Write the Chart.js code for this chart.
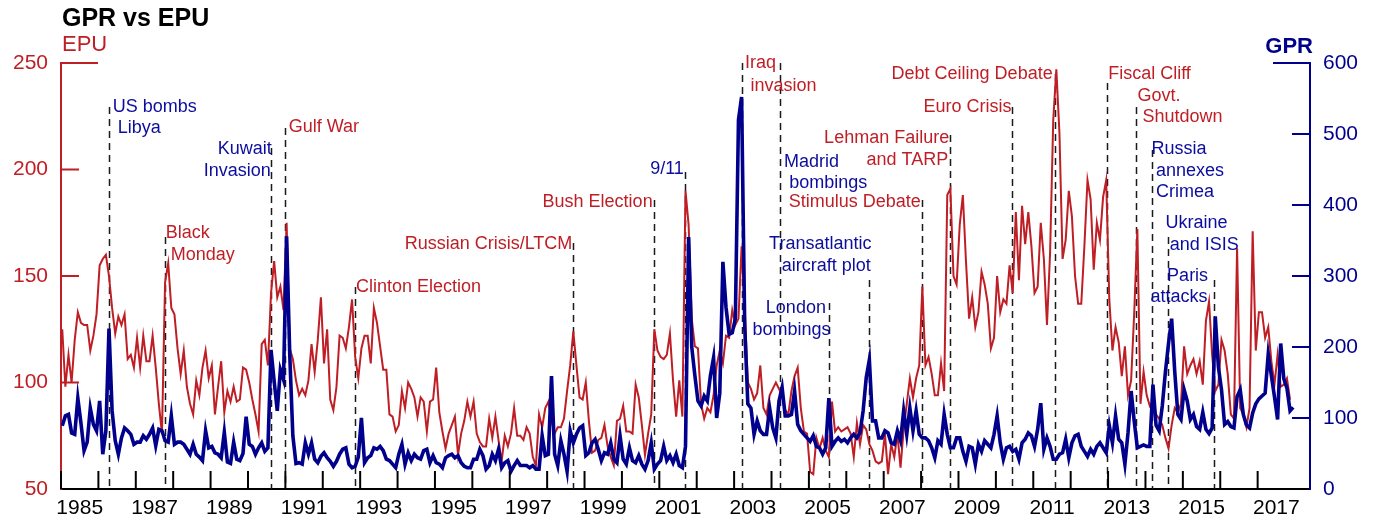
<!DOCTYPE html>
<html>
<head>
<meta charset="utf-8">
<script src="https://cdn.jsdelivr.net/npm/chart.js@4.4.0/dist/chart.umd.min.js"></script>
<style>
  html, body { margin: 0; padding: 0; background: #fff; }
  #wrap { width: 1381px; height: 531px; }
</style>
</head>
<body>
<div id="wrap"><canvas id="c" width="1381" height="531"></canvas></div>
<script>
const startYear = 1985;

// EPU index, monthly from Jan 1985 (one row per year), last value Nov 2017
const epuValues = [
  125, 98, 113, 100, 120, 133, 128, 127, 127, 115, 122, 132,
  155, 158, 160, 150, 135, 123, 131, 127, 132, 111, 113, 107,
  121, 107, 122, 110, 110, 122, 107, 90, 76, 147, 156, 135,
  132, 116, 104, 115, 98, 90, 85, 101, 94, 107, 115, 102,
  108, 85, 98, 110, 86, 96, 91, 98, 91, 92, 107, 106,
  100, 92, 85, 77, 118, 120, 108, 142, 157, 140, 145, 134,
  175, 116, 111, 101, 94, 97, 94, 101, 118, 105, 120, 140,
  109, 125, 92, 87, 98, 122, 121, 116, 126, 139, 112, 102,
  116, 122, 122, 109, 135, 128, 117, 106, 106, 85, 84, 77,
  80, 96, 88, 100, 97, 93, 84, 93, 91, 77, 91, 92,
  107, 86, 77, 69, 76, 80, 84, 66, 76, 82, 91, 84,
  91, 76, 72, 70, 70, 83, 74, 84, 73, 63, 75, 70,
  76, 88, 75, 75, 73, 79, 76, 65, 61, 85, 79, 88,
  91, 82, 76, 79, 79, 83, 96, 108, 124, 108, 93, 92,
  100, 82, 67, 68, 73, 74, 80, 70, 65, 61, 82, 83,
  89, 77, 77, 76, 99, 93, 80, 66, 76, 85, 125, 115,
  112, 111, 113, 123, 101, 84, 101, 84, 190, 174, 130, 117,
  116, 90, 83, 88, 86, 94, 108, 115, 109, 122, 121, 134,
  127, 130, 164, 135, 100, 97, 92, 95, 108, 88, 85, 94,
  97, 100, 97, 94, 87, 85, 96, 103, 107, 88, 77, 76,
  58, 57, 74, 69, 74, 68, 65, 91, 77, 79, 77, 78,
  79, 76, 65, 81, 71, 80, 78, 71, 68, 63, 62, 63,
  76, 57, 71, 65, 76, 60, 78, 90, 102, 93, 102, 108,
  145, 108, 112, 104, 94, 94, 109, 96, 188, 191, 150, 146,
  174, 188, 157, 130, 140, 126, 133, 152, 146, 137, 116, 121,
  150, 133, 139, 137, 155, 142, 180, 148, 183, 165, 180, 164,
  142, 145, 175, 158, 127, 161, 223, 247, 217, 158, 167, 190,
  178, 150, 137, 137, 164, 195, 186, 153, 175, 167, 187, 195,
  139, 115, 126, 119, 103, 117, 94, 101, 133, 172, 90, 105,
  94, 89, 91, 85, 83, 80, 74, 69, 80, 88, 86, 90,
  117, 104, 108, 111, 104, 110, 99, 129, 138, 113, 96, 99,
  120, 115, 104, 85, 83, 163, 88, 85, 79, 88, 171, 115,
  133, 133, 121, 126, 110, 99, 113, 98, 99, 102, 92
];

// GPR index, monthly from Jan 1985 (one row per year), last value Dec 2017
const gprValues = [
  89, 103, 105, 79, 77, 128, 93, 54, 66, 114, 91, 82,
  124, 49, 82, 226, 110, 68, 49, 72, 86, 82, 77, 63,
  66, 66, 75, 70, 77, 86, 61, 84, 82, 68, 66, 103,
  63, 66, 66, 63, 56, 49, 63, 49, 45, 40, 82, 58,
  60, 51, 49, 44, 80, 38, 36, 66, 42, 40, 50, 102,
  63, 60, 49, 58, 65, 53, 58, 196, 152, 110, 168, 154,
  356, 190, 75, 36, 37, 35, 65, 49, 65, 42, 37, 46,
  51, 44, 39, 32, 39, 49, 56, 58, 35, 30, 32, 45,
  100, 37, 44, 47, 58, 56, 60, 54, 42, 40, 35, 30,
  49, 63, 35, 51, 40, 49, 44, 42, 54, 56, 37, 47,
  37, 35, 30, 44, 47, 49, 44, 47, 37, 32, 30, 30,
  42, 42, 56, 47, 28, 33, 49, 40, 56, 30, 37, 40,
  25, 33, 40, 33, 33, 33, 30, 33, 28, 28, 75, 47,
  49, 159, 49, 33, 68, 49, 25, 82, 65, 77, 86, 89,
  47, 51, 65, 70, 56, 40, 51, 49, 65, 42, 37, 75,
  42, 35, 58, 40, 37, 47, 35, 28, 40, 65, 28, 35,
  40, 60, 40, 47, 37, 49, 33, 30, 60, 355, 200, 160,
  124, 117, 131, 124, 160, 185, 100, 135, 320, 256, 218, 220,
  240, 520, 552, 230, 120, 114, 77, 96, 82, 77, 77, 114,
  86, 72, 124, 143, 103, 103, 105, 138, 91, 82, 77, 72,
  67, 75, 60, 58, 49, 58, 128, 60, 67, 72, 67, 70,
  65, 72, 77, 72, 79, 110, 157, 182, 96, 96, 72, 72,
  82, 79, 65, 63, 82, 68, 110, 77, 114, 82, 110, 77,
  72, 72, 68, 58, 44, 68, 63, 105, 77, 58, 58, 72,
  72, 53, 39, 60, 58, 35, 63, 53, 68, 63, 58, 77,
  103, 65, 42, 58, 60, 53, 56, 42, 65, 70, 79, 75,
  60, 84, 121, 56, 72, 60, 42, 42, 49, 51, 70, 44,
  65, 75, 77, 60, 53, 46, 56, 49, 60, 65, 58, 51,
  89, 65, 103, 70, 65, 35, 79, 138, 95, 58, 60, 62,
  60, 60, 147, 90, 82, 117, 165, 205, 240, 165, 105, 98,
  140, 124, 98, 105, 88, 84, 108, 84, 78, 86, 243, 172,
  140, 91, 95, 88, 86, 130, 140, 105, 90, 86, 107, 120,
  127, 131, 135, 190, 160, 130, 98, 205, 155, 142, 110, 115
];

const yearTicks = [];
for (let yr = 1985; yr <= 2017; yr++) yearTicks.push(yr);

// events: date (decimal year), label lines, which index it belongs to
const eventDates = [1986.29, 1987.78, 1990.615, 1990.997, 1992.87, 1998.70, 2000.856, 2001.69,
  2003.20, 2004.225, 2005.535, 2006.60, 2008.02, 2008.77, 2010.435, 2011.58, 2012.975,
  2013.76, 2014.18, 2014.59, 2015.82];
const eventNames = [
  ['US bombs', 'Libya'], ['Black', 'Monday'], ['Kuwait', 'Invasion'], ['Gulf War'],
  ['Clinton Election'], ['Russian Crisis/LTCM'], ['Bush Election'], ['9/11'],
  ['Iraq', 'invasion'], ['Madrid', 'bombings'], ['London', 'bombings'],
  ['Transatlantic', 'aircraft plot'], ['Stimulus Debate'], ['Lehman Failure', 'and TARP'],
  ['Euro Crisis'], ['Debt Ceiling Debate'], ['Fiscal Cliff'], ['Govt.', 'Shutdown'],
  ['Russia', 'annexes', 'Crimea'], ['Ukraine', 'and ISIS'], ['Paris', 'attacks']
];
const eventIndex = ['gpr', 'epu', 'gpr', 'epu', 'epu', 'epu', 'epu', 'gpr', 'epu', 'gpr', 'gpr',
  'gpr', 'epu', 'epu', 'epu', 'epu', 'epu', 'epu', 'gpr', 'gpr', 'gpr'];

// label placement: top of dashed line and text baselines in EPU units, dx in px from the line
const eventLayout = [
  { top: 229.3, align: 'left',  lines: [[3.4, 227.0], [8.4, 217.1]] },
  { top: 168.3, align: 'left',  lines: [[0.7, 167.7], [5.7, 157.5]] },
  { top: 210.1, align: 'right', lines: [[0.7, 207.3], [-0.3, 197.1]] },
  { top: 219.5, align: 'left',  lines: [[3.4, 217.5]] },
  { top: 144.8, align: 'left',  lines: [[0.7, 142.6]] },
  { top: 165.5, align: 'right', lines: [[-1, 162.5]] },
  { top: 185.7, align: 'right', lines: [[-1.3, 182.3]] },
  { top: 198.8, align: 'right', lines: [[-1.3, 197.9]] },
  { top: 250,   align: 'left',  lines: [[3.3, 247.5], [9, 237]] },
  { top: 250,   align: 'left',  lines: [[4, 201.3], [9.3, 191.2]] },
  { top: 137.3, align: 'right', lines: [[-3, 132.5], [1.7, 122.3]] },
  { top: 148.1, align: 'right', lines: [[2.7, 162.5], [2, 152.5]] },
  { top: 185.7, align: 'right', lines: [[-1, 182.3]] },
  { top: 216.2, align: 'right', lines: [[-0.7, 212.3], [-1.7, 202.1]] },
  { top: 229.3, align: 'right', lines: [[-0.6, 226.9]] },
  { top: 244.8, align: 'right', lines: [[-2.3, 242.5]] },
  { top: 240.6, align: 'left',  lines: [[1, 242.5]] },
  { top: 229.3, align: 'left',  lines: [[1, 232.3], [6, 222.2]] },
  { top: 209.2, align: 'left',  lines: [[-0.6, 207.3], [3.7, 197.1], [3.7, 186.9]] },
  { top: 168.3, align: 'left',  lines: [[-2, 172.4], [2.3, 162.2]] },
  { top: 148.1, align: 'right', lines: [[-5.4, 147.7], [-6, 137.7]] }
];

const RED = '#bf1e25';
const BLUE = '#00008c';
const BLUE_TXT = '#0c0c9e';
const FONT = '"Liberation Sans", Arial, Helvetica, sans-serif';

const monthX = i => startYear + (i + 0.4) / 12;
const toPoints = arr => arr.map((v, i) => ({ x: monthX(i), y: v }));

const overlay = {
  id: 'overlay',
  beforeDatasetsDraw(chart) {
    const { ctx, chartArea: a, scales: { x, y } } = chart;
    ctx.save();
    ctx.strokeStyle = '#1a1a1a';
    ctx.lineWidth = 1.5;
    ctx.setLineDash([7, 5]);
    eventDates.forEach((d, i) => {
      const px = Math.round(x.getPixelForValue(d)) + 0.5;
      ctx.beginPath();
      ctx.moveTo(px, y.getPixelForValue(eventLayout[i].top));
      ctx.lineTo(px, a.bottom);
      ctx.stroke();
    });
    ctx.restore();
  },
  afterDatasetsDraw(chart) {
    const { ctx, chartArea: a, scales: { x, y, y1 } } = chart;
    ctx.save();
    ctx.lineWidth = 2;
    // inward ticks on the time axis
    ctx.strokeStyle = '#000';
    yearTicks.forEach(yr => {
      const px = x.getPixelForValue(yr);
      ctx.beginPath(); ctx.moveTo(px, a.bottom); ctx.lineTo(px, a.bottom - 18); ctx.stroke();
    });
    // inward ticks on EPU axis
    ctx.strokeStyle = RED;
    y.ticks.forEach(t => {
      if (t.value === y.min) return;
      const py = y.getPixelForValue(t.value);
      const len = t.value === y.max ? 37 : 18;
      ctx.beginPath(); ctx.moveTo(a.left, py); ctx.lineTo(a.left + len, py); ctx.stroke();
    });
    // inward ticks on GPR axis
    ctx.strokeStyle = BLUE;
    y1.ticks.forEach(t => {
      if (t.value === y1.min) return;
      const py = y1.getPixelForValue(t.value);
      const len = t.value === y1.max ? 37 : 18;
      ctx.beginPath(); ctx.moveTo(a.right, py); ctx.lineTo(a.right - len, py); ctx.stroke();
    });
    ctx.restore();
  },
  afterDraw(chart) {
    const { ctx, chartArea: a, scales: { x, y } } = chart;
    ctx.save();
    ctx.textBaseline = 'alphabetic';
    ctx.textAlign = 'left';
    ctx.fillStyle = '#000';
    ctx.font = 'bold 25px ' + FONT;
    ctx.fillText('GPR vs EPU', a.left + 1, 26);
    ctx.fillStyle = RED;
    ctx.font = '22px ' + FONT;
    ctx.fillText('EPU', a.left + 1, 51);
    ctx.fillStyle = BLUE;
    ctx.font = 'bold 22px ' + FONT;
    ctx.textAlign = 'right';
    ctx.fillText('GPR', a.right + 3, 53);

    ctx.font = '18px ' + FONT;
    eventDates.forEach((d, i) => {
      const px = x.getPixelForValue(d);
      const lay = eventLayout[i];
      ctx.fillStyle = eventIndex[i] === 'gpr' ? BLUE_TXT : RED;
      ctx.textAlign = lay.align;
      eventNames[i].forEach((txt, k) => {
        const [dx, v] = lay.lines[k];
        ctx.fillText(txt, px + dx, y.getPixelForValue(v));
      });
    });
    ctx.restore();
  }
};

new Chart(document.getElementById('c'), {
  type: 'line',
  data: {
    datasets: [
      { label: 'GPR', data: toPoints(gprValues), yAxisID: 'y1', borderColor: BLUE,
        borderWidth: 3.6, pointRadius: 0, tension: 0, order: 1 },
      { label: 'EPU', data: toPoints(epuValues), yAxisID: 'y', borderColor: RED,
        borderWidth: 2, pointRadius: 0, tension: 0, order: 2 }
    ]
  },
  options: {
    responsive: false,
    animation: false,
    layout: { padding: { top: 63, left: 0, right: 0, bottom: 0 } },
    plugins: { legend: { display: false }, tooltip: { enabled: false }, title: { display: false } },
    scales: {
      x: {
        type: 'linear', min: 1985, max: 2018.4,
        afterBuildTicks: s => { s.ticks = yearTicks.map(v => ({ value: v })); },
        afterFit: s => { s.height = 42; },
        grid: { display: false, drawTicks: false },
        border: { color: '#000', width: 2 },
        ticks: {
          autoSkip: false, maxRotation: 0, minRotation: 0, padding: 7, labelOffset: 18.7,
          color: '#000', font: { family: FONT, size: 21 },
          callback: v => (v % 2 ? String(v) : '')
        }
      },
      y: {
        position: 'left', min: 50, max: 250,
        afterFit: s => { s.width = 61; },
        grid: { display: false, drawTicks: false },
        border: { color: RED, width: 2 },
        ticks: { stepSize: 50, padding: 13, color: RED, font: { family: FONT, size: 21 } }
      },
      y1: {
        position: 'right', min: 0, max: 600,
        afterFit: s => { s.width = 71; },
        grid: { display: false, drawTicks: false },
        border: { color: BLUE, width: 2 },
        ticks: { stepSize: 100, padding: 13, color: BLUE, font: { family: FONT, size: 21 } }
      }
    }
  },
  plugins: [overlay]
});
</script>
</body>
</html>
